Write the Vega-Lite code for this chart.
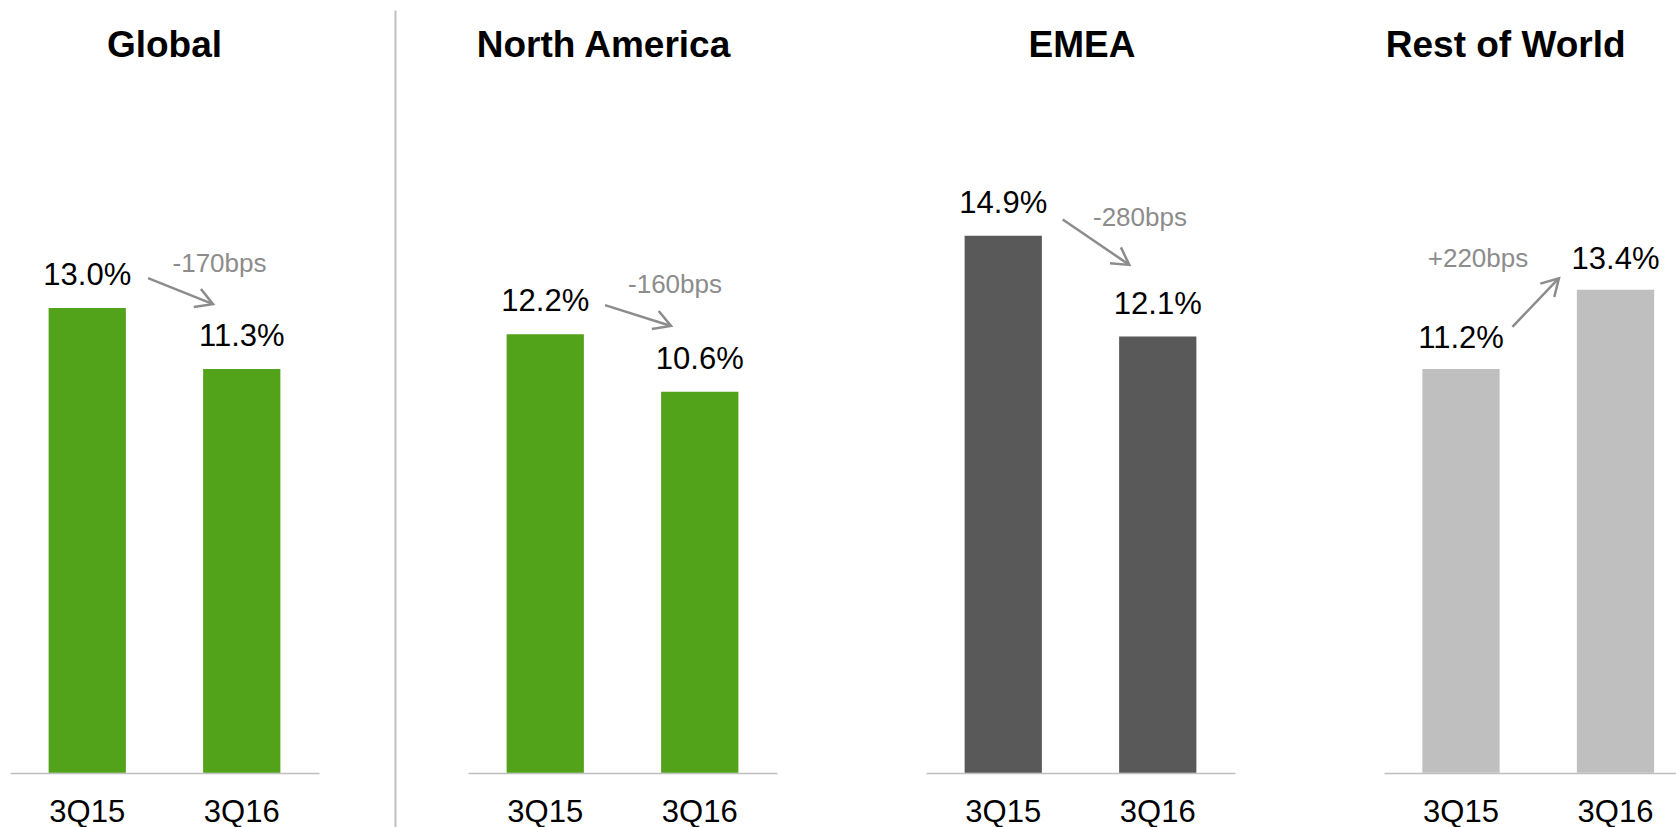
{
  "$schema": "https://vega.github.io/schema/vega-lite/v6.json",
  "padding": {"left": 10, "top": 10, "right": 0, "bottom": 0},
  "background": "white",
  "datasets": {
    "bars": [
      {"region": "Global", "period": "3Q15", "value": 13.0, "label": "13.0%"},
      {"region": "Global", "period": "3Q16", "value": 11.3, "label": "11.3%"},
      {"region": "North America", "period": "3Q15", "value": 12.2, "label": "12.2%"},
      {"region": "North America", "period": "3Q16", "value": 10.6, "label": "10.6%"},
      {"region": "EMEA", "period": "3Q15", "value": 14.9, "label": "14.9%"},
      {"region": "EMEA", "period": "3Q16", "value": 12.1, "label": "12.1%"},
      {"region": "Rest of World", "period": "3Q15", "value": 11.2, "label": "11.2%"},
      {"region": "Rest of World", "period": "3Q16", "value": 13.4, "label": "13.4%"}
    ],
    "changes": [
      {"region": "Global", "change": "-170bps", "from": "3Q15", "to": "3Q16"},
      {"region": "North America", "change": "-160bps", "from": "3Q15", "to": "3Q16"},
      {"region": "EMEA", "change": "-280bps", "from": "3Q15", "to": "3Q16"},
      {"region": "Rest of World", "change": "+220bps", "from": "3Q15", "to": "3Q16"}
    ]
  },
  "hconcat": [
    {
      "width": 309, "height": 817,
      "layer": [
        {"data": {"name": "bars"}, "transform": [{"filter": "datum.region === 'Global'"}],
         "mark": {"type": "bar", "color": "#52a21a"},
         "encoding": {
           "x": {"field": "period", "type": "nominal", "scale": {"paddingInner": 0.5, "paddingOuter": 0.25}},
           "y": {"field": "value", "type": "quantitative", "scale": {"domain": [-1.516, 21.34], "nice": false, "zero": false}, "axis": null},
           "y2": {"datum": 0}}},
        {"data": {"name": "bars"}, "transform": [{"filter": "datum.region === 'Global'"}],
         "mark": {"type": "text", "dy": -23, "baseline": "alphabetic", "fontSize": 31, "color": "#000000"},
         "encoding": {"x": {"field": "period", "type": "nominal"}, "y": {"field": "value", "type": "quantitative"}, "text": {"field": "label"}}},
        {"data": {"name": "changes"}, "transform": [{"filter": "datum.region === 'Global'"}],
         "mark": {"type": "text", "fontSize": 37, "fontWeight": "bold", "color": "#000000", "baseline": "alphabetic"},
         "encoding": {"x": {"field": "from", "type": "nominal", "bandPosition": 1.5}, "y": {"datum": 20.03}, "text": {"field": "region"}}},
        {"data": {"name": "changes"}, "transform": [{"filter": "datum.region === 'Global'"}],
         "mark": {"type": "rule", "color": "#8c8c8c", "strokeWidth": 2.5},
         "encoding": {"x": {"field": "from", "type": "nominal", "bandPosition": 1.287}, "x2": {"field": "to", "bandPosition": 0.128}, "y": {"datum": 13.84}, "y2": {"datum": 13.11}}},
        {"data": {"name": "changes"}, "transform": [{"filter": "datum.region === 'Global'"}],
         "mark": {"type": "point", "shape": "M-0.87,-0.5L0,0L-0.87,0.5", "filled": false, "size": 1500, "strokeWidth": 2.5, "color": "#8c8c8c", "opacity": 1, "angle": 21.7},
         "encoding": {"x": {"field": "to", "type": "nominal", "bandPosition": 0.128}, "y": {"datum": 13.11}}},
        {"data": {"name": "changes"}, "transform": [{"filter": "datum.region === 'Global'"}],
         "mark": {"type": "text", "fontSize": 26, "color": "#8c8c8c", "baseline": "alphabetic"},
         "encoding": {"x": {"field": "to", "type": "nominal", "bandPosition": 0.212}, "y": {"datum": 14.01}, "text": {"field": "change"}}}
      ]
    },
    {
      "width": 309, "height": 817,
      "layer": [
        {"data": {"name": "bars"}, "transform": [{"filter": "datum.region === 'North America'"}],
         "mark": {"type": "bar", "color": "#52a21a"},
         "encoding": {
           "x": {"field": "period", "type": "nominal", "scale": {"paddingInner": 0.5, "paddingOuter": 0.25}},
           "y": {"field": "value", "type": "quantitative", "scale": {"domain": [-1.508, 21.22], "nice": false, "zero": false}, "axis": {"title": null}},
           "y2": {"datum": 0}}},
        {"data": {"name": "bars"}, "transform": [{"filter": "datum.region === 'North America'"}],
         "mark": {"type": "text", "dy": -23, "baseline": "alphabetic", "fontSize": 31, "color": "#000000"},
         "encoding": {"x": {"field": "period", "type": "nominal"}, "y": {"field": "value", "type": "quantitative"}, "text": {"field": "label"}}},
        {"data": {"name": "changes"}, "transform": [{"filter": "datum.region === 'North America'"}],
         "mark": {"type": "text", "fontSize": 37, "fontWeight": "bold", "color": "#000000", "baseline": "alphabetic"},
         "encoding": {"x": {"field": "from", "type": "nominal", "bandPosition": 1.254}, "y": {"datum": 19.91}, "text": {"field": "region"}}},
        {"data": {"name": "changes"}, "transform": [{"filter": "datum.region === 'North America'"}],
         "mark": {"type": "rule", "color": "#8c8c8c", "strokeWidth": 2.5},
         "encoding": {"x": {"field": "from", "type": "nominal", "bandPosition": 1.274}, "x2": {"field": "to", "bandPosition": 0.128}, "y": {"datum": 13.01}, "y2": {"datum": 12.43}}},
        {"data": {"name": "changes"}, "transform": [{"filter": "datum.region === 'North America'"}],
         "mark": {"type": "point", "shape": "M-0.87,-0.5L0,0L-0.87,0.5", "filled": false, "size": 1500, "strokeWidth": 2.5, "color": "#8c8c8c", "opacity": 1, "angle": 20.7},
         "encoding": {"x": {"field": "to", "type": "nominal", "bandPosition": 0.128}, "y": {"datum": 12.43}}},
        {"data": {"name": "changes"}, "transform": [{"filter": "datum.region === 'North America'"}],
         "mark": {"type": "text", "fontSize": 26, "color": "#8c8c8c", "baseline": "alphabetic"},
         "encoding": {"x": {"field": "to", "type": "nominal", "bandPosition": 0.18}, "y": {"datum": 13.34}, "text": {"field": "change"}}}
      ]
    },
    {
      "width": 309, "height": 817,
      "layer": [
        {"data": {"name": "bars"}, "transform": [{"filter": "datum.region === 'EMEA'"}],
         "mark": {"type": "bar", "color": "#595959"},
         "encoding": {
           "x": {"field": "period", "type": "nominal", "scale": {"paddingInner": 0.5, "paddingOuter": 0.25}},
           "y": {"field": "value", "type": "quantitative", "scale": {"domain": [-1.503, 21.16], "nice": false, "zero": false}, "axis": null},
           "y2": {"datum": 0}}},
        {"data": {"name": "bars"}, "transform": [{"filter": "datum.region === 'EMEA'"}],
         "mark": {"type": "text", "dy": -23, "baseline": "alphabetic", "fontSize": 31, "color": "#000000"},
         "encoding": {"x": {"field": "period", "type": "nominal"}, "y": {"field": "value", "type": "quantitative"}, "text": {"field": "label"}}},
        {"data": {"name": "changes"}, "transform": [{"filter": "datum.region === 'EMEA'"}],
         "mark": {"type": "text", "fontSize": 37, "fontWeight": "bold", "color": "#000000", "baseline": "alphabetic"},
         "encoding": {"x": {"field": "from", "type": "nominal", "bandPosition": 1.52}, "y": {"datum": 19.86}, "text": {"field": "region"}}},
        {"data": {"name": "changes"}, "transform": [{"filter": "datum.region === 'EMEA'"}],
         "mark": {"type": "rule", "color": "#8c8c8c", "strokeWidth": 2.5},
         "encoding": {"x": {"field": "from", "type": "nominal", "bandPosition": 1.27}, "x2": {"field": "to", "bandPosition": 0.132}, "y": {"datum": 15.35}, "y2": {"datum": 14.09}}},
        {"data": {"name": "changes"}, "transform": [{"filter": "datum.region === 'EMEA'"}],
         "mark": {"type": "point", "shape": "M-0.87,-0.5L0,0L-0.87,0.5", "filled": false, "size": 1500, "strokeWidth": 2.5, "color": "#8c8c8c", "opacity": 1, "angle": 34.5},
         "encoding": {"x": {"field": "to", "type": "nominal", "bandPosition": 0.132}, "y": {"datum": 14.09}}},
        {"data": {"name": "changes"}, "transform": [{"filter": "datum.region === 'EMEA'"}],
         "mark": {"type": "text", "fontSize": 26, "color": "#8c8c8c", "baseline": "alphabetic"},
         "encoding": {"x": {"field": "to", "type": "nominal", "bandPosition": 0.27}, "y": {"datum": 15.17}, "text": {"field": "change"}}}
      ]
    },
    {
      "width": 292, "height": 817,
      "layer": [
        {"data": {"name": "bars"}, "transform": [{"filter": "datum.region === 'Rest of World'"}],
         "mark": {"type": "bar", "color": "#bfbfbf"},
         "encoding": {
           "x": {"field": "period", "type": "nominal", "scale": {"paddingInner": 0.5, "paddingOuter": 0.195, "align": 0.637}},
           "y": {"field": "value", "type": "quantitative", "scale": {"domain": [-1.503, 21.16], "nice": false, "zero": false}, "axis": null},
           "y2": {"datum": 0}}},
        {"data": {"name": "bars"}, "transform": [{"filter": "datum.region === 'Rest of World'"}],
         "mark": {"type": "text", "dy": -21, "baseline": "alphabetic", "fontSize": 31, "color": "#000000"},
         "encoding": {"x": {"field": "period", "type": "nominal"}, "y": {"field": "value", "type": "quantitative"}, "text": {"field": "label"}}},
        {"data": {"name": "changes"}, "transform": [{"filter": "datum.region === 'Rest of World'"}],
         "mark": {"type": "text", "fontSize": 37, "fontWeight": "bold", "color": "#000000", "baseline": "alphabetic"},
         "encoding": {"x": {"field": "from", "type": "nominal", "bandPosition": 1.078}, "y": {"datum": 19.86}, "text": {"field": "region"}}},
        {"data": {"name": "changes"}, "transform": [{"filter": "datum.region === 'Rest of World'"}],
         "mark": {"type": "rule", "color": "#8c8c8c", "strokeWidth": 2.5},
         "encoding": {"x": {"field": "from", "type": "nominal", "bandPosition": 1.165}, "x2": {"field": "to", "bandPosition": -0.232}, "y": {"datum": 12.37}, "y2": {"datum": 13.72}}},
        {"data": {"name": "changes"}, "transform": [{"filter": "datum.region === 'Rest of World'"}],
         "mark": {"type": "point", "shape": "M-0.87,-0.5L0,0L-0.87,0.5", "filled": false, "size": 1500, "strokeWidth": 2.5, "color": "#8c8c8c", "opacity": 1, "angle": -46.1},
         "encoding": {"x": {"field": "to", "type": "nominal", "bandPosition": -0.232}, "y": {"datum": 13.72}}},
        {"data": {"name": "changes"}, "transform": [{"filter": "datum.region === 'Rest of World'"}],
         "mark": {"type": "text", "fontSize": 26, "color": "#8c8c8c", "baseline": "alphabetic"},
         "encoding": {"x": {"field": "from", "type": "nominal", "bandPosition": 0.72}, "y": {"datum": 14.04}, "text": {"field": "change"}}}
      ]
    }
  ],
  "spacing": 149,
  "bounds": "flush",
  "config": {
    "font": "Liberation Sans",
    "view": {"stroke": null},
    "text": {"font": "Liberation Sans"},
    "axisX": {"title": null, "labelAngle": 0, "ticks": false, "tickSize": 0, "labelPadding": 48, "labelBaseline": "alphabetic", "offset": -54, "domainColor": "#bfbfbf", "domainWidth": 1.5, "labelFontSize": 31, "labelColor": "#000000", "labelFont": "Liberation Sans", "grid": false, "labelLimit": 0},
    "axisY": {"title": null, "ticks": false, "tickSize": 0, "labels": false, "grid": false, "domain": true, "domainColor": "#c0c0c0", "domainWidth": 2, "offset": 73}
  }
}
